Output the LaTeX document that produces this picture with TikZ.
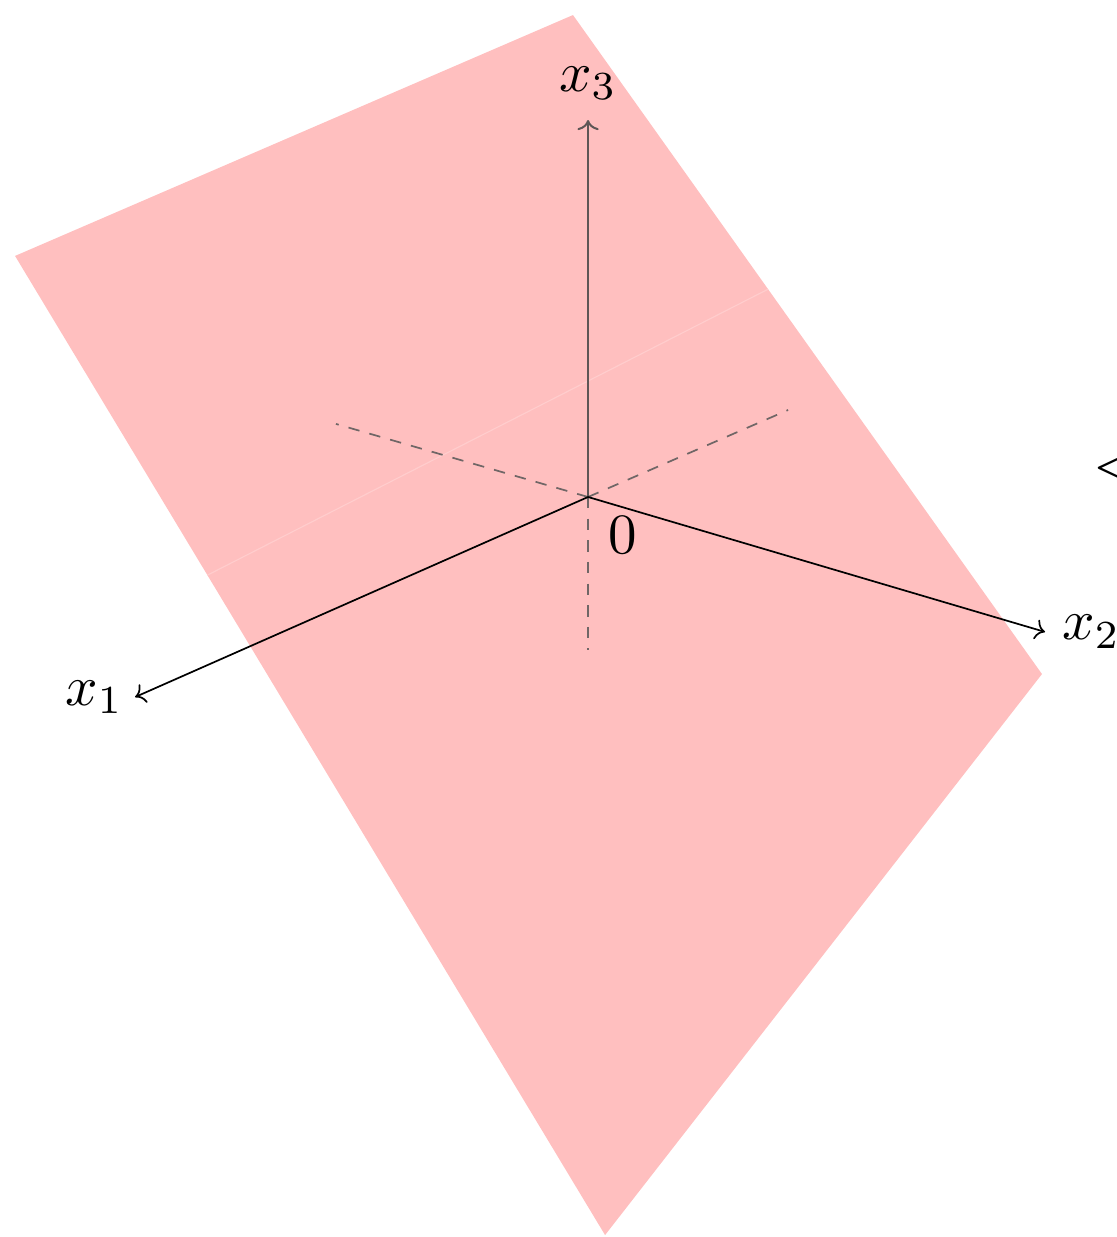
\documentclass[tikz,border=0pt]{standalone}
\usepackage{tikz}
\usepackage{amsmath,amssymb}
\usetikzlibrary{arrows.meta, positioning, calc}
\definecolor{planepink}{HTML}{FFBFBF}
\definecolor{seampink}{HTML}{FFCDCD}
\definecolor{axisgray}{HTML}{5E5656}
\definecolor{dashgray}{HTML}{706666}
\tikzset{
  axisline/.style={-{To[scale=0.75]}, line width=0.3pt, black},
  hidaxis/.style={-{To[scale=0.75]}, line width=0.35pt, axisgray},
  negaxis/.style={dash pattern=on 2pt off 1.8pt, line width=0.3pt, dashgray},
  plane/.style={fill=planepink, draw=none},
  axlabel/.style={text=black, inner sep=3.33pt},
}

\begin{document}
\begin{tikzpicture}
  \useasboundingbox (-3.630,3.068) rectangle (3.259,-4.568);

  % Plane corners
  \coordinate (P1) at (-3.537,1.488);
  \coordinate (P2) at (-0.093,2.975);
  \coordinate (P3) at (2.802,-1.093);
  \coordinate (P4) at (0.105,-4.556);
  \fill[plane] (P1) -- (P2) -- (P3) -- (P4) -- cycle;
  \draw[seampink, line width=0.2pt] ($(P1)!0.326!(P4)$) -- ($(P2)!0.416!(P3)$);

  % Origin and axis tips
  \coordinate (O) at (0,0);
  \coordinate (X1) at (-2.796,-1.235);
  \coordinate (X2) at (2.821,-0.833);
  \coordinate (X3) at (0,2.327);
  \coordinate (N1) at (1.235,0.537);
  \coordinate (N2) at (-1.556,0.451);
  \coordinate (N3) at (0,-0.944);

  \draw[negaxis] (O) -- (N1);
  \draw[negaxis] (O) -- (N2);
  \draw[negaxis] (O) -- (N3);
  \draw[hidaxis] (O) -- (X3);
  \draw[axisline] (O) -- (X1);
  \draw[axisline] (O) -- (X2);

  \node[axlabel, left=-1.5pt of X1] (L1) {$x_1$};
  \node[axlabel, right=-0.5pt of X2] (L2) {$x_2$};
  \node[axlabel, above=0pt of X3] (L3) {$x_3$};
  \node[axlabel, below right=0pt of O] (L0) {$0$};

  % Text cut off at the right edge
  \node[anchor=west, inner sep=0pt] (cut) at (3.111,0.175) {$<$};
\end{tikzpicture}
\end{document}
